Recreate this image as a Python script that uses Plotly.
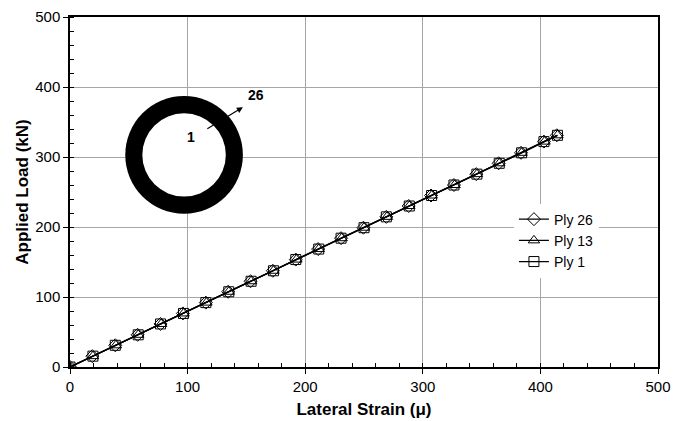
import plotly.graph_objects as go

strain_ply26 = [0, 19, 38.5, 57.5, 77, 96, 115.5, 134.5, 153.5, 172.5, 192, 211, 230.5, 249.5, 269, 288, 307, 326.5, 345.5, 364.5, 383.5, 403, 414]
strain_ply13 = [0, 19.5, 39, 58, 77.5, 96.5, 116, 135, 154, 173, 192.5, 211.5, 231, 250, 269.5, 288.5, 307.5, 327, 346, 365, 384, 403.5, 414.5]
strain_ply1 = [0, 19.5, 38.5, 58, 77, 96.5, 115.5, 135, 154, 173, 192, 211.5, 230.5, 250, 269, 288.5, 307.5, 326.5, 346, 365, 384, 403, 414.5]
load_kN = [0, 15.5, 31, 46, 61.5, 76.5, 92, 107.5, 122.5, 137.5, 153.5, 168.5, 184, 199, 214.5, 230, 245, 260, 275.5, 291, 306, 322, 331]

series_names = ["Ply 26", "Ply 13", "Ply 1"]
series_strain = [strain_ply26, strain_ply13, strain_ply1]
series_symbols = ["diamond-open", "triangle-up-open", "square-open"]

x_ticks = [0, 100, 200, 300, 400, 500]
y_ticks = [0, 100, 200, 300, 400, 500]

fig = go.Figure()
for name, xs, sym in zip(series_names, series_strain, series_symbols):
    fig.add_trace(go.Scatter(
        x=xs, y=load_kN, name=name, mode="lines+markers",
        line=dict(color="black", width=1.3),
        marker=dict(symbol=sym, size=10, color="black", line=dict(width=1)),
    ))

font = "Liberation Sans, Arial, sans-serif"
axis_common = dict(
    showline=True, linecolor="black", linewidth=1.5, mirror=True,
    showgrid=True, gridcolor="#a6a6a6", gridwidth=1, automargin=False,
    zeroline=False, ticks="outside", ticklen=5, tickcolor="black", tickwidth=1,
    tickfont=dict(family=font, size=15, color="black"),
    minor=dict(ticks="inside", ticklen=4, tickcolor="black", dtick=20, showgrid=False),
)
fig.update_xaxes(range=[0, 500], tickvals=x_ticks, **axis_common,
                 title=dict(text="<b>Lateral Strain (μ)</b>", font=dict(family=font, size=17, color="black"), standoff=9))
fig.update_yaxes(range=[0, 500], tickvals=y_ticks, **axis_common,
                 title=dict(text="<b>Applied Load (kN)</b>", font=dict(family=font, size=17, color="black"), standoff=2))

# ring inset
fig.add_shape(type="circle", xref="x", yref="y", x0=47, x1=147, y0=219, y1=387,
              fillcolor="black", line=dict(width=0), layer="above")
fig.add_shape(type="circle", xref="x", yref="y", x0=61.5, x1=132.5, y0=243.5, y1=362.5,
              fillcolor="white", line=dict(width=0), layer="above")
fig.add_annotation(x=103, y=329, text="<b>1</b>", showarrow=False,
                   font=dict(family=font, size=14, color="black"))
fig.add_annotation(x=158, y=388, text="<b>26</b>", showarrow=False,
                   font=dict(family=font, size=14, color="black"))
fig.add_annotation(x=147, y=371, ax=115.5, ay=339, xref="x", yref="y", axref="x", ayref="y",
                   text="", showarrow=True, arrowhead=2, arrowsize=1, arrowwidth=1.2, arrowcolor="black")

fig.update_layout(
    width=687, height=421,
    margin=dict(l=70, r=29, t=17, b=54, autoexpand=False),
    paper_bgcolor="white", plot_bgcolor="white",
    font=dict(family=font, size=15, color="black"),
    legend=dict(x=0.755, y=0.467, xanchor="left", yanchor="top",
                bgcolor="white", borderwidth=0, tracegroupgap=0,
                font=dict(family=font, size=14, color="black"), itemwidth=30),
    showlegend=True,
)

fig.write_html("out.html", config={"displayModeBar": False},
               post_script="document.body.style.margin='0';document.body.style.overflow='hidden';")
